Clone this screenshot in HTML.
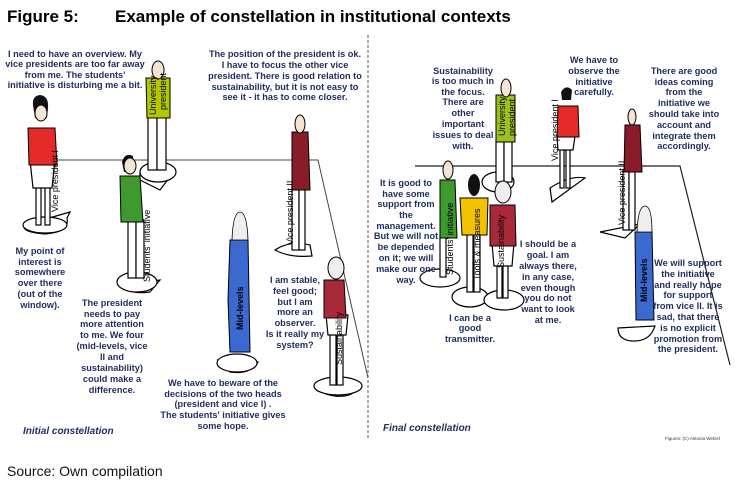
<!DOCTYPE html>
<html><head><meta charset="utf-8"><style>
html,body{margin:0;padding:0;background:#fff;width:751px;height:487px;overflow:hidden}
svg{display:block}
.t{font-family:"Liberation Sans",sans-serif;font-weight:bold;font-size:9.2px;fill:#1f2d5c;text-anchor:middle}
.l{font-family:"Liberation Sans",sans-serif;font-size:9px;fill:#000}
.b{fill:#fff;stroke:#000;stroke-width:1.2}
.sk{fill:#f4e4d4;stroke:#000;stroke-width:1}
.o{stroke:#000;stroke-width:1}
</style></head><body>
<svg width="751" height="487" viewBox="0 0 751 487" xmlns="http://www.w3.org/2000/svg">
<text x="7" y="22" font-family="Liberation Sans,sans-serif" font-weight="bold" font-size="17">Figure 5:</text>
<text x="115" y="22" font-family="Liberation Sans,sans-serif" font-weight="bold" font-size="17">Example of constellation in institutional contexts</text>

<line x1="368" y1="35" x2="368" y2="440" stroke="#555" stroke-dasharray="3,2" stroke-width="1"/>
<polyline points="50,160 318,160 368,378" fill="none" stroke="#444" stroke-width="1"/>
<polyline points="415,166 680,166 730,365" fill="none" stroke="#222" stroke-width="1.2"/>

<!-- LEFT figures -->
<path class="b" d="M25,225 L70,212 L67,218 Q70,232 45,234 Q20,232 25,225Z"/>
<ellipse class="b" cx="45" cy="225" rx="22" ry="8"/>
<rect x="36" y="185" width="5" height="40" class="b"/><rect x="45" y="185" width="5" height="40" class="b"/>
<path d="M30,160 L55,160 L52,188 L33,188Z" class="b"/>
<path d="M28,128 L55,128 L57,165 L29,165Z" fill="#e52a2a" class="o"/>
<path d="M33,105 Q32,96 40,95 Q49,96 48,108 L47,118 L35,118Z" fill="#111"/>
<ellipse cx="41" cy="113" rx="6" ry="8" class="sk"/>
<text class="l" transform="translate(58,212) rotate(-90)">Vice president I</text>

<path class="b" d="M140,172 L175,170 L160,190 L140,180Z"/>
<ellipse class="b" cx="158" cy="172" rx="18" ry="10"/>
<rect x="148" y="115" width="9" height="55" class="b"/><rect x="157" y="115" width="9" height="55" class="b"/>
<path d="M146,78 L170,78 L170,118 L147,118Z" fill="#b4c800" class="o"/>
<ellipse cx="158" cy="70" rx="6" ry="9" class="sk"/>
<text class="l" transform="translate(156,115) rotate(-90)">University</text>
<text class="l" transform="translate(166,110) rotate(-90)">president</text>

<path class="b" d="M118,285 L160,280 L150,292 Q130,295 118,285Z"/>
<ellipse class="b" cx="137" cy="282" rx="20" ry="10"/>
<rect x="128" y="220" width="8" height="58" class="b"/><rect x="136" y="220" width="8" height="58" class="b"/>
<path d="M120,176 L140,176 L143,222 L121,222Z" fill="#3e9a2f" class="o"/>
<path d="M122,162 Q125,152 133,156 L134,172 L124,172Z" fill="#111"/>
<ellipse cx="130" cy="166" rx="6" ry="8" class="sk"/>
<text class="l" transform="translate(150,282) rotate(-90)">Students' initiative</text>

<path class="b" d="M218,360 L258,362 Q250,375 230,372 Z"/>
<ellipse class="b" cx="237" cy="363" rx="20" ry="9"/>
<path d="M230,240 L248,240 L250,352 L230,352 L228,300Z" fill="#3a6ad0" class="o"/>
<path d="M232,240 Q233,212 240,212 Q247,212 248,240Z" fill="#eee" stroke="#000" stroke-width="0.8"/>
<text class="l" transform="translate(243,330) rotate(-90)" font-weight="bold">Mid-levels</text>

<path class="b" d="M275,250 Q290,240 310,245 L312,256 Q290,258 275,250Z"/>
<rect x="292" y="185" width="7" height="65" class="b"/><rect x="299" y="185" width="6" height="65" class="b"/>
<path d="M292,132 L308,132 L310,190 L292,190Z" fill="#8a1c2a" class="o"/>
<ellipse cx="300" cy="124" rx="5" ry="9" class="sk"/>
<text class="l" transform="translate(293,245) rotate(-90)">Vice president II</text>

<path class="b" d="M320,385 L360,384 Q355,398 335,396 Q318,394 320,385Z"/>
<ellipse class="b" cx="338" cy="386" rx="24" ry="9"/>
<rect x="330" y="330" width="6" height="55" class="b"/><rect x="337" y="330" width="6" height="55" class="b"/>
<path d="M326,315 L348,315 L346,335 L328,335Z" class="b"/>
<path d="M324,280 L344,280 L346,318 L324,318Z" fill="#a82a38" class="o"/>
<ellipse cx="336" cy="268" rx="8" ry="11" fill="#eee" class="o"/>
<text class="l" transform="translate(342,365) rotate(-90)">Sustainability</text>

<!-- RIGHT figures -->
<ellipse class="b" cx="498" cy="182" rx="16" ry="10"/>
<rect x="496" y="140" width="8" height="42" class="b"/><rect x="504" y="140" width="8" height="42" class="b"/>
<path d="M496,95 L515,95 L515,142 L496,142Z" fill="#9bc21a" class="o"/>
<ellipse cx="506" cy="88" rx="5" ry="9" class="sk"/>
<text class="l" transform="translate(505,136) rotate(-90)">University</text>
<text class="l" transform="translate(515,136) rotate(-90)">president</text>

<path class="b" d="M550,188 Q570,175 585,178 L552,202 Z"/>
<rect x="560" y="148" width="4" height="40" class="b"/><rect x="566" y="148" width="4" height="40" class="b"/>
<path d="M557,136 L575,136 L573,150 L558,150Z" class="b"/>
<path d="M558,106 L578,106 L579,137 L557,137Z" fill="#e52a2a" class="o"/>
<path d="M561,92 Q566,84 572,90 L571,100 L562,100Z" fill="#111"/>
<text class="l" transform="translate(558,161) rotate(-90)">Vice president I</text>

<path class="b" d="M600,232 L640,224 L625,238 Z"/>
<rect x="623" y="170" width="6" height="60" class="b"/><rect x="629" y="170" width="6" height="60" class="b"/>
<path d="M625,125 L640,125 L642,172 L624,172Z" fill="#8a1c2a" class="o"/>
<ellipse cx="632" cy="117" rx="4" ry="8" class="sk"/>
<text class="l" transform="translate(625,225) rotate(-90)">Vice president II</text>

<path class="b" d="M618,328 L655,326 Q650,342 632,341 Q618,340 618,328Z"/>
<path d="M635,232 L652,232 L654,320 L636,320Z" fill="#3a6ad0" class="o"/>
<path d="M637,232 Q638,206 645,206 Q652,206 652,232Z" fill="#eee" stroke="#000" stroke-width="0.8"/>
<text class="l" transform="translate(647,302) rotate(-90)" font-weight="bold">Mid-levels</text>

<ellipse class="b" cx="440" cy="278" rx="20" ry="9"/>
<rect x="440" y="235" width="6" height="42" class="b"/>
<path d="M440,180 L455,180 L457,238 L440,238Z" fill="#3e9a2f" class="o"/>
<ellipse cx="448" cy="170" rx="5" ry="9" class="sk"/>
<text class="l" transform="translate(453,275) rotate(-90)">Students' initiative</text>

<ellipse class="b" cx="470" cy="297" rx="18" ry="10"/>
<ellipse class="b" cx="504" cy="300" rx="20" ry="10"/>
<rect x="467" y="232" width="6" height="60" class="b"/><rect x="474" y="232" width="6" height="60" class="b"/>
<path d="M460,198 L488,198 L487,235 L462,235Z" fill="#f2c200" class="o"/>
<ellipse cx="474" cy="185" rx="6" ry="11" fill="#111"/>
<text class="l" transform="translate(480,280) rotate(-90)">Tools &amp; measures</text>

<rect x="497" y="262" width="5" height="36" class="b"/><rect x="503" y="262" width="5" height="36" class="b"/>
<path d="M492,243 L514,243 L512,266 L494,266Z" class="b"/>
<path d="M490,205 L515,205 L516,246 L490,246Z" fill="#a82a38" class="o"/>
<ellipse cx="503" cy="192" rx="8" ry="11" fill="#eee" class="o"/>
<text class="l" transform="translate(504,268) rotate(-90)">Sustainability</text>

<!-- LEFT texts -->
<g class="t">
<text x="75" y="57">I need to have an overview. My</text>
<text x="75" y="67">vice presidents are too far away</text>
<text x="75" y="78">from me. The students'</text>
<text x="75" y="88">initiative is disturbing me a bit.</text>
<text x="285" y="57">The position of the president is ok.</text>
<text x="285" y="68">I have to focus the other vice</text>
<text x="285" y="79">president. There is good relation to</text>
<text x="285" y="90">sustainability, but it is not easy to</text>
<text x="285" y="100">see it - it has to come closer.</text>
<text x="40" y="254">My point of</text>
<text x="40" y="265">interest is</text>
<text x="40" y="275">somewhere</text>
<text x="40" y="286">over there</text>
<text x="40" y="297">(out of the</text>
<text x="40" y="308">window).</text>
<text x="112" y="306">The president</text>
<text x="112" y="317">needs to pay</text>
<text x="112" y="327">more attention</text>
<text x="112" y="338">to me. We four</text>
<text x="112" y="349">(mid-levels, vice</text>
<text x="112" y="360">II and</text>
<text x="112" y="371">sustainability)</text>
<text x="112" y="382">could make a</text>
<text x="112" y="393">difference.</text>
<text x="295" y="283">I am stable,</text>
<text x="295" y="294">feel good;</text>
<text x="295" y="305">but I am</text>
<text x="295" y="315">more an</text>
<text x="295" y="326">observer.</text>
<text x="295" y="337">Is it really my</text>
<text x="295" y="348">system?</text>
<text x="223" y="386">We have to beware of the</text>
<text x="223" y="397">decisions of the two heads</text>
<text x="223" y="407">(president and vice I) .</text>
<text x="223" y="418">The students' initiative gives</text>
<text x="223" y="429">some hope.</text>
</g>
<text x="23" y="434" font-family="Liberation Sans,sans-serif" font-weight="bold" font-style="italic" font-size="10" fill="#1f2d5c">Initial constellation</text>

<!-- RIGHT texts -->
<g class="t">
<text x="463" y="74">Sustainability</text>
<text x="463" y="84">is too much in</text>
<text x="463" y="95">the focus.</text>
<text x="463" y="105">There are</text>
<text x="463" y="116">other</text>
<text x="463" y="127">important</text>
<text x="463" y="138">issues to deal</text>
<text x="463" y="149">with.</text>
<text x="594" y="63">We have to</text>
<text x="594" y="74">observe the</text>
<text x="594" y="85">initiative</text>
<text x="594" y="95">carefully.</text>
<text x="684" y="74">There are good</text>
<text x="684" y="85">ideas coming</text>
<text x="684" y="95">from the</text>
<text x="684" y="106">initiative we</text>
<text x="684" y="117">should take into</text>
<text x="684" y="128">account and</text>
<text x="684" y="139">integrate them</text>
<text x="684" y="149">accordingly.</text>
<text x="406" y="186">It is good to</text>
<text x="406" y="197">have some</text>
<text x="406" y="207">support from</text>
<text x="406" y="218">the</text>
<text x="406" y="229">management.</text>
<text x="406" y="239">But we will not</text>
<text x="406" y="250">be depended</text>
<text x="406" y="261">on it; we will</text>
<text x="406" y="272">make our one</text>
<text x="406" y="283">way.</text>
<text x="548" y="247">I should be a</text>
<text x="548" y="258">goal. I am</text>
<text x="548" y="269">always there,</text>
<text x="548" y="280">in any case,</text>
<text x="548" y="291">even though</text>
<text x="548" y="301">you do not</text>
<text x="548" y="312">want to look</text>
<text x="548" y="323">at me.</text>
<text x="470" y="321">I can be a</text>
<text x="470" y="331">good</text>
<text x="470" y="342">transmitter.</text>
<text x="688" y="266">We will support</text>
<text x="688" y="277">the initiative</text>
<text x="688" y="288">and really hope</text>
<text x="688" y="298">for support</text>
<text x="688" y="309">from vice II. It is</text>
<text x="688" y="320">sad, that there</text>
<text x="688" y="331">is no explicit</text>
<text x="688" y="342">promotion from</text>
<text x="688" y="352">the president.</text>
</g>
<text x="383" y="431" font-family="Liberation Sans,sans-serif" font-weight="bold" font-style="italic" font-size="10" fill="#1f2d5c">Final constellation</text>
<text x="665" y="440" font-family="Liberation Sans,sans-serif" font-size="4.5" fill="#333">Figures: (C) Antonia Wetzel</text>

<text x="7" y="476" font-family="Liberation Sans,sans-serif" font-size="14" fill="#111">Source: Own compilation</text>
</svg>
</body></html>
